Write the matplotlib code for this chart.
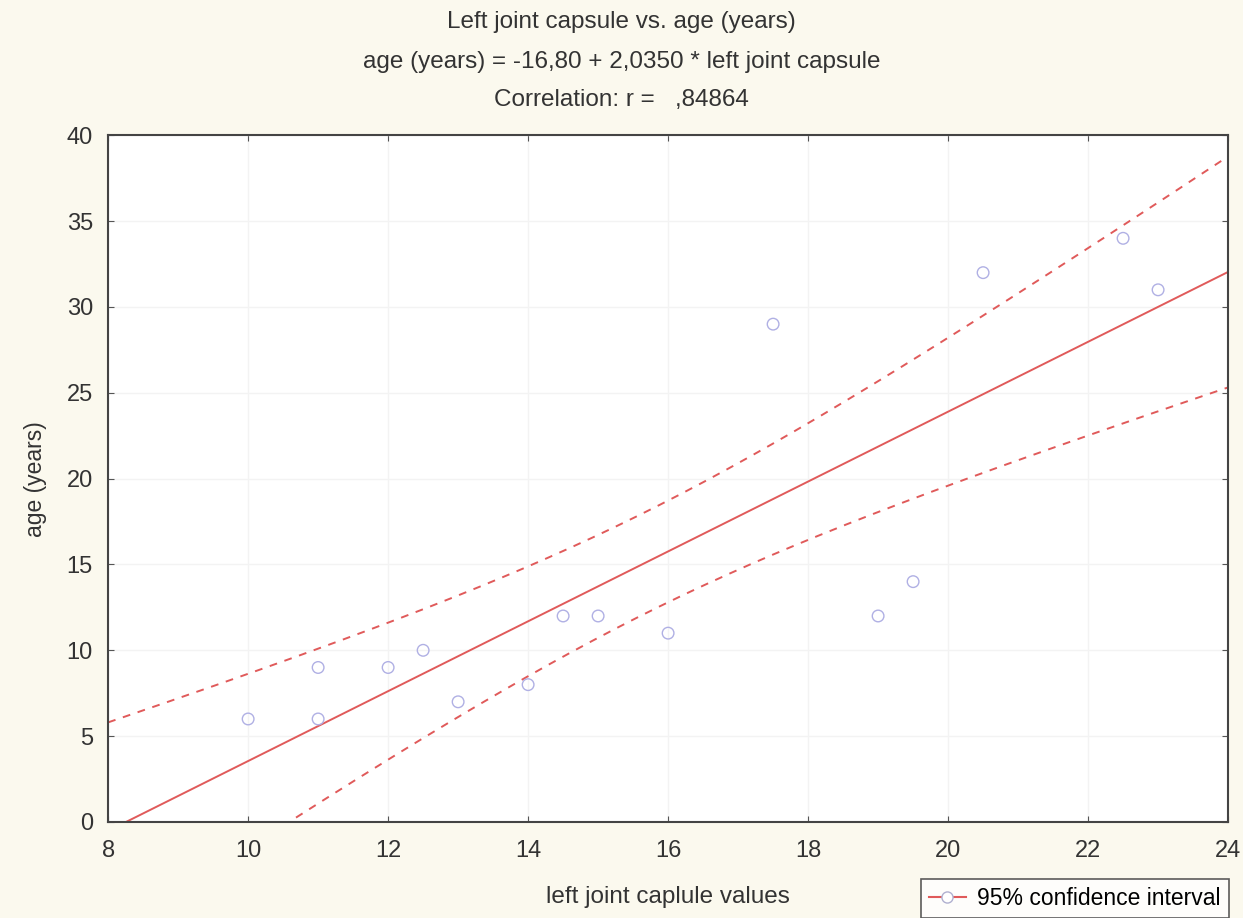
import numpy as np
import matplotlib.pyplot as plt

plt.rcParams['font.family'] = ['Liberation Sans', 'DejaVu Sans']

# left joint capsule values vs age (years)
capsule = [10, 11, 11, 12, 12.5, 13, 14, 14.5, 15, 16, 17.5, 19, 19.5, 20.5, 22.5, 23]
age = [6, 9, 6, 9, 10, 7, 8, 12, 12, 11, 29, 12, 14, 32, 34, 31]

x = np.array(capsule, dtype=float)
y = np.array(age, dtype=float)
n = len(x)
slope, intercept = np.polyfit(x, y, 1)
resid = y - (intercept + slope * x)
s = np.sqrt(np.sum(resid ** 2) / (n - 2))
t_crit = 2.1448  # t(0.975, df=14)

xs = np.linspace(8, 24, 200)
fit = intercept + slope * xs
half = t_crit * s * np.sqrt(1 / n + (xs - x.mean()) ** 2 / np.sum((x - x.mean()) ** 2))

bg = '#fbf9ee'
red = '#e05a5a'
txt = '#333333'
fig = plt.figure(figsize=(12.43, 9.18), dpi=100, facecolor=bg)
ax = fig.add_axes([0.087, 0.1046, 0.901, 0.748])
ax.set_facecolor('white')

ax.grid(True, color='#f3f3f3', linewidth=1)
ax.set_axisbelow(True)
ax.plot(xs, fit, color=red, linewidth=1.4)
ax.plot(xs, fit + half, color=red, linewidth=1.4, linestyle=(0, (4, 4)))
ax.plot(xs, fit - half, color=red, linewidth=1.4, linestyle=(0, (4, 4)))
ax.scatter(x, y, s=70, facecolors='none', edgecolors='#b0b0e4', linewidths=1, zorder=3)

ax.set_xlim(8, 24)
ax.set_ylim(0, 40)
ax.set_xticks(np.arange(8, 25, 2))
ax.set_yticks(np.arange(0, 41, 5))
ax.tick_params(direction='in', length=4, labelsize=17, top=True, right=True,
               color='#555555', labelcolor=txt)
ax.tick_params(axis='x', pad=13)
ax.tick_params(axis='y', pad=11)
for sp in ax.spines.values():
    sp.set_color('#444444')
    sp.set_linewidth(1.5)

ax.set_xlabel('left joint caplule values', fontsize=17.5, color=txt, labelpad=17)
ax.set_ylabel('age (years)', fontsize=16.5, color=txt, labelpad=14)

fig.text(0.5, 0.976, 'Left joint capsule vs. age (years)', ha='center', va='center',
         fontsize=17.5, color=txt)
fig.text(0.5, 0.933, 'age (years) = -16,80 + 2,0350 * left joint capsule', ha='center',
         va='center', fontsize=17.5, color=txt)
fig.text(0.5, 0.891, 'Correlation: r =   ,84864', ha='center', va='center',
         fontsize=17.5, color=txt)

handle, = ax.plot([], [], color=red, marker='o', markerfacecolor='white',
                  markeredgecolor='#b0b0d0', markersize=8, linewidth=1.5)
leg = fig.legend([handle], ['95% confidence interval'], loc='upper left',
                 bbox_to_anchor=(0.741, 0.042), fontsize=16.5, frameon=True,
                 fancybox=False, handlelength=1.6, handletextpad=0.5,
                 borderpad=0.35, borderaxespad=0)
leg.get_frame().set_edgecolor('#333333')
leg.get_frame().set_facecolor('white')
leg.get_frame().set_linewidth(1.2)

fig.savefig('out.png', dpi=100, facecolor=bg)
